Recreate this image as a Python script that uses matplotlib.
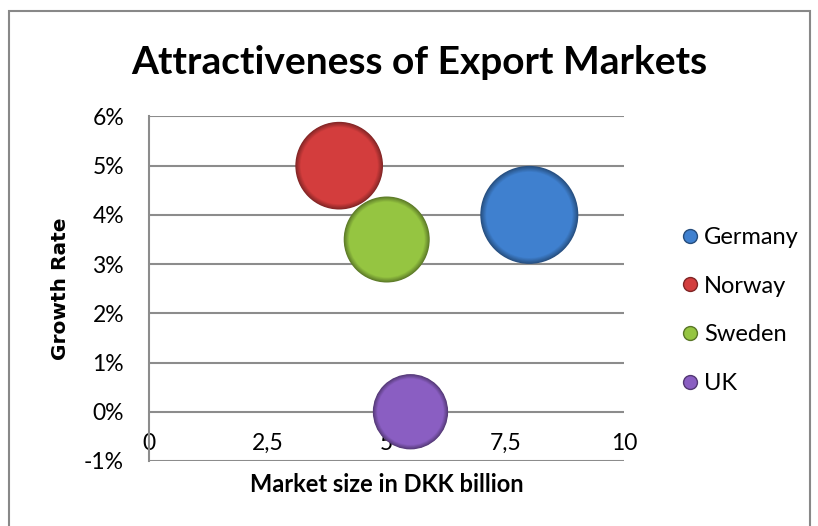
import numpy as np
import matplotlib
matplotlib.use("Agg")
import matplotlib.pyplot as plt
from matplotlib.lines import Line2D
from matplotlib.patches import Rectangle
from matplotlib.colors import to_rgb

markets = ["Germany", "Norway", "Sweden", "UK"]
market_size = [8, 4, 5, 5.5]          # DKK billion
growth_rate = [4, 5, 3.5, 0]          # percent
bubble_size = [10, 8, 7.7, 5.9]
colors = ["#3F80CF", "#D33D3D", "#95C541", "#8A5EC2"]

x_ticks = [0, 2.5, 5, 7.5, 10]
x_tick_labels = ["0", "2,5", "5", "7,5", "10"]
y_ticks = [-1, 0, 1, 2, 3, 4, 5, 6]

plt.rcParams['font.family'] = ['Lato', 'DejaVu Sans']

fig = plt.figure(figsize=(8.18, 5.26), dpi=100)
ax = fig.add_axes([0.1822, 0.1236, 0.5811, 0.655])

# outer chart border
fig.patches.append(Rectangle((9 / 818, -0.02), 801 / 818, 1.02 - 11 / 526,
                             transform=fig.transFigure, fill=False,
                             edgecolor="#888888", lw=1.5))


def shade(c, k):
    r, g, b = to_rgb(c)
    return (r * k, g * k, b * k)


max_s = 4979.0  # marker area (pt^2) of the largest bubble
for name, x, y, s, c in zip(markets, market_size, growth_rate, bubble_size, colors):
    area = max_s * s / max(bubble_size)
    # darker rim fading into the body colour
    n = 8
    for i in range(n + 1):
        f = 1.0 - 0.12 * i / n
        k = 0.62 + 0.38 * i / n
        ax.scatter([x], [y], s=area * f * f, color=shade(c, k),
                   edgecolors='none', zorder=3)

ax.set_xlim(0, 10)
ax.set_ylim(-1, 6)
ax.set_xticks(x_ticks)
ax.set_xticklabels(x_tick_labels)
ax.set_yticks(y_ticks)
ax.set_yticklabels(["%d%%" % v for v in y_ticks])

ax.grid(axis='y', color="#8C8C8C", lw=1.5)
ax.set_axisbelow(True)
for side in ['top', 'right', 'bottom']:
    ax.spines[side].set_visible(False)
ax.spines['left'].set_color("#8C8C8C")
ax.spines['left'].set_linewidth(1.5)
ax.spines['bottom'].set_position(('data', 0))
ax.tick_params(axis='both', length=0, labelsize=16.5)
ax.tick_params(axis='x', pad=15)
ax.tick_params(axis='y', pad=18)

ax.set_xlabel("Market size in DKK billion", fontsize=17, fontweight='bold', labelpad=14)
ax.set_ylabel("Growth Rate", fontsize=14.5, fontweight='bold', family='DejaVu Sans', labelpad=10)
fig.text(0.513, 0.882, "Attractiveness of Export Markets", ha='center', va='center',
         fontsize=28, fontweight='bold')

handles = [Line2D([], [], marker='o', ls='', markersize=10,
                  markerfacecolor=c, markeredgecolor=shade(c, 0.6), markeredgewidth=1)
           for c in colors]
fig.legend(handles, markets, loc='center left', bbox_to_anchor=(0.823, 0.41),
           frameon=False, fontsize=17, handlelength=0.6, handletextpad=0.3,
           labelspacing=1.17, borderaxespad=0)

fig.savefig("out.png", dpi=100)
